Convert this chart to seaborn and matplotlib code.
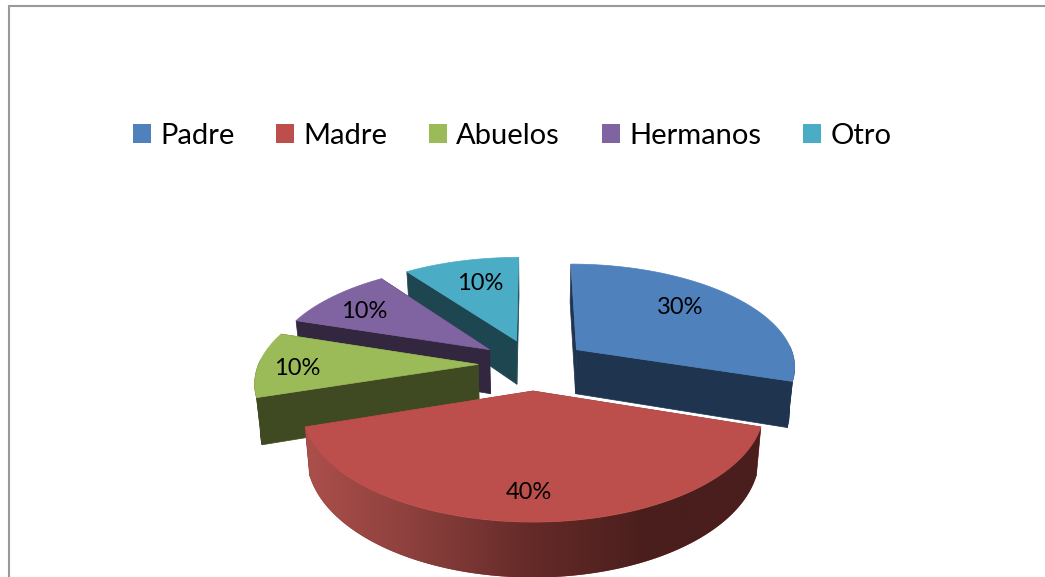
import numpy as np
import matplotlib
matplotlib.use('Agg')
import matplotlib.pyplot as plt
from matplotlib.patches import Polygon, Patch, Rectangle
import seaborn as sns

# values of the chart
categories = ['Padre', 'Madre', 'Abuelos', 'Hermanos', 'Otro']
shares = [30, 40, 10, 10, 10]
labels = ['30%', '40%', '10%', '10%', '10%']

top_colors = ['#4F81BD', '#BC4F4B', '#9BBB59', '#8064A2', '#4BACC6']
side_colors = ['#1F344E', '#8A3B38', '#404A22', '#33263F', '#1D4650']
wall_ramp = ['#AC4F4B', '#8A3F3C', '#642A28', '#4A1E1C', '#4A1E1C']

sns.set_theme(style='white')
plt.rcParams['font.family'] = ['Lato', 'DejaVu Sans']

# fake 3d: centre, radii, perspective, explosion and depth of the pie, in pixels
cx, cy = 533, 364.4
rx, ry = 219.5, 102.5
persp = 0.15
explode = 0.25
depth = 45
shrink = 0.98


def project(u, v, lower=False):
    s = 1 / (1 + persp * v)
    x = u * rx * s
    y = -v * ry * s
    if lower:
        return cx + x * shrink, cy + y + depth * s
    return cx + x, cy + y


def slice_points(start, end, n=120):
    ang = np.radians(np.linspace(start, end, n))
    mid = np.radians((start + end) / 2)
    ou, ov = explode * np.sin(mid), explode * np.cos(mid)
    return ang, ou, ov, ou + np.sin(ang), ov + np.cos(ang)


def draw_slice(ax, start, end, top, side, order, shaded):
    ang, ou, ov, us, vs = slice_points(start, end)
    # the two cut faces
    for u, v in [(us[0], vs[0]), (us[-1], vs[-1])]:
        quad = [project(ou, ov), project(u, v), project(u, v, True), project(ou, ov, True)]
        ax.add_patch(Polygon(quad, fc=side, ec=side, lw=0.5, zorder=order))
    # outer wall, only the part that faces the viewer
    front = np.cos(ang) < 0.05
    if front.any():
        upper = [project(u, v) for u, v in zip(us[front], vs[front])]
        lower = [project(u, v, True) for u, v in zip(us[front], vs[front])]
        wall = Polygon(upper + lower[::-1], fc=side, ec=side, lw=0.5, zorder=order + 0.1)
        ax.add_patch(wall)
        if shaded:
            # left to right shading of the big slice
            xs = [p[0] for p in upper + lower]
            ys = [p[1] for p in upper + lower]
            cmap = sns.blend_palette(wall_ramp, 256, as_cmap=True)
            img = ax.imshow(np.linspace(0, 1, 256)[None, :], cmap=cmap, aspect='auto',
                            extent=(min(xs), max(xs), max(ys), min(ys)), zorder=order + 0.15)
            img.set_clip_path(wall)
            wall.set_edgecolor('none')
    pts = [project(ou, ov)] + [project(u, v) for u, v in zip(us, vs)]
    ax.add_patch(Polygon(pts, fc=top, ec=top, lw=0.5, zorder=order + 0.2))


fig = plt.figure(figsize=(10.45, 5.77), dpi=100)
ax = fig.add_axes([0, 0, 1, 1])
ax.axis('off')

# chart frame, cut off by the picture on the right and at the bottom
ax.add_patch(Rectangle((8.5, 5.5), 1100, 700, fc='white', ec='#999999', lw=1.5, zorder=0))

edges = np.cumsum([0] + shares) / sum(shares) * 360
draw_order = [4, 3, 2, 0, 1]
for rank, i in enumerate(draw_order):
    draw_slice(ax, edges[i], edges[i + 1], top_colors[i], side_colors[i], rank + 1, i == 1)

ax.set_xlim(0, 1045)
ax.set_ylim(577, 0)

# label position along the slice: radius fraction, angle shift
label_radius = [0.70, 0.80, 0.82, 0.75, 0.68]
label_shift = [-5, 1, -3, -3, 1.5]
for i, txt in enumerate(labels):
    mid = (edges[i] + edges[i + 1]) / 2
    ou, ov = explode * np.sin(np.radians(mid)), explode * np.cos(np.radians(mid))
    a = np.radians(mid + label_shift[i])
    lx, ly = project(ou + label_radius[i] * np.sin(a), ov + label_radius[i] * np.cos(a))
    ax.text(lx, ly, txt, ha='center', va='center', fontsize=17, color='black', zorder=20)

handles = [Patch(fc=c, ec='none', label=n) for c, n in zip(top_colors, categories)]
fs = 21
px = fs * 100 / 72
ax.legend(handles=handles, ncol=5, loc='center left', bbox_to_anchor=(133, 136),
          bbox_transform=ax.transData, frameon=False, fontsize=fs, borderpad=0,
          borderaxespad=0, handlelength=18 / px, handleheight=18 / px,
          handletextpad=9 / px, columnspacing=42 / px, labelcolor='black')

fig.savefig('out.png', dpi=100)
